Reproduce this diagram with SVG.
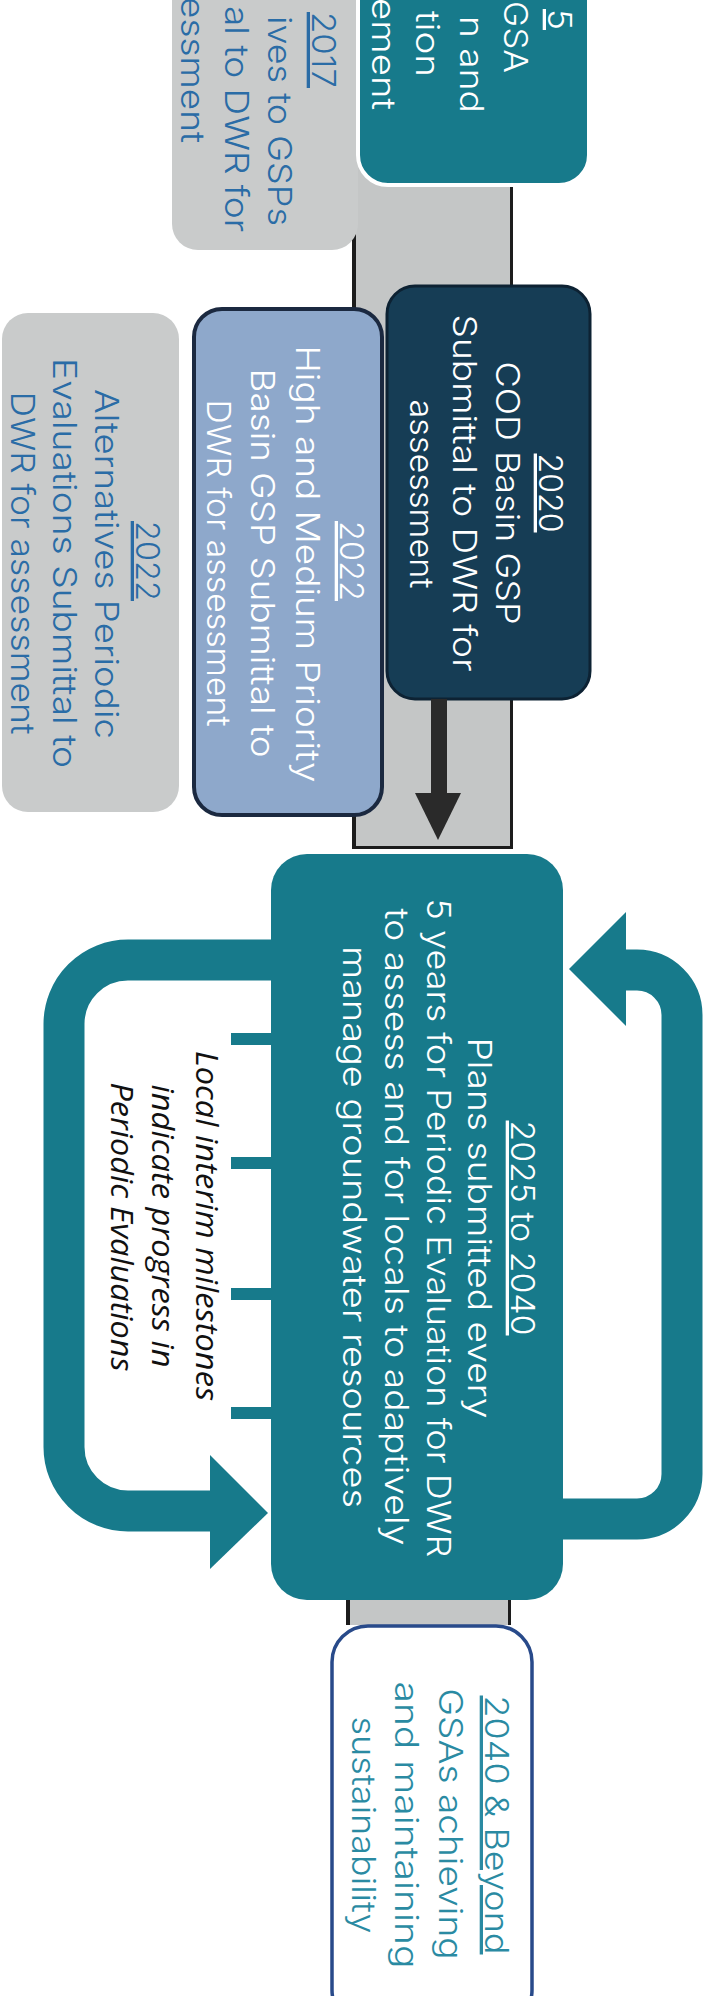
<svg xmlns="http://www.w3.org/2000/svg" width="717" height="1996" viewBox="0 0 717 1996">
<defs>
<style>
.t{font-family:Inter,"DejaVu Sans",sans-serif;font-weight:300;font-size:33px;text-anchor:middle}
.e{font-family:Inter,"DejaVu Sans",sans-serif;font-weight:300;font-size:33px;text-anchor:end}
.w{fill:#ffffff}
.bl{fill:#2a6ca6}
.u{text-decoration:underline}
.it{font-family:"Open Sans","Noto Sans",sans-serif;font-style:italic;font-size:31px;text-anchor:middle;fill:#111111}
.teal{fill:#177a8b}
.loop{fill:none;stroke:#177a8b;stroke-width:41}
</style>
<linearGradient id="g40" gradientUnits="userSpaceOnUse" x1="340" y1="1690" x2="510" y2="1960">
<stop offset="0" stop-color="#2a8aa2"/>
<stop offset="1" stop-color="#2a4688"/>
</linearGradient>
</defs>
<rect width="717" height="1996" fill="#ffffff"/>

<g id="timeline">
<rect x="352" y="0" width="161" height="849" fill="#c4c6c6"/>
<line x1="354" y1="0" x2="354" y2="849" stroke="#1c1c1c" stroke-width="4"/>
<line x1="511.5" y1="0" x2="511.5" y2="849" stroke="#1c1c1c" stroke-width="3"/>
<line x1="352" y1="847.5" x2="513" y2="847.5" stroke="#1c1c1c" stroke-width="3"/>
<rect x="346" y="1598" width="165" height="27" fill="#c4c6c6"/>
<line x1="348" y1="1598" x2="348" y2="1625" stroke="#1c1c1c" stroke-width="4"/>
<line x1="509.5" y1="1598" x2="509.5" y2="1625" stroke="#1c1c1c" stroke-width="3"/>
</g>

<g id="node-2017">
<rect x="172" y="-40" width="186" height="290" rx="26" fill="#c9cbcb"/>
<text class="e bl u" transform="translate(312,88) rotate(90)" textLength="76" lengthAdjust="spacingAndGlyphs">2017</text>
<text class="e bl" transform="translate(268,226) rotate(90)" textLength="210" lengthAdjust="spacingAndGlyphs">ives to GSPs</text>
<text class="e bl" transform="translate(225,232) rotate(90)" textLength="226" lengthAdjust="spacingAndGlyphs">al to DWR for</text>
<text class="e bl" transform="translate(181,143) rotate(90)" textLength="146" lengthAdjust="spacingAndGlyphs">essment</text>
</g>

<g id="node-2015">
<rect x="358" y="-40" width="231" height="225" rx="30" fill="#177a8b" stroke="#ffffff" stroke-width="4"/>
<text class="e w u" transform="translate(548,30) rotate(90)" textLength="21" lengthAdjust="spacingAndGlyphs">5</text>
<text class="e w" transform="translate(504,73) rotate(90)" textLength="72" lengthAdjust="spacingAndGlyphs">GSA</text>
<text class="e w" transform="translate(460,113) rotate(90)" textLength="97" lengthAdjust="spacingAndGlyphs">n and</text>
<text class="e w" transform="translate(416,77) rotate(90)" textLength="66" lengthAdjust="spacingAndGlyphs">tion</text>
<text class="e w" transform="translate(372,110) rotate(90)" textLength="112" lengthAdjust="spacingAndGlyphs">ement</text>
</g>

<g id="node-2022-alt">
<rect x="2" y="313" width="177" height="499" rx="26" fill="#c9cbcb"/>
<text class="t bl u" transform="translate(136,561) rotate(90)" textLength="80" lengthAdjust="spacingAndGlyphs">2022</text>
<text class="t bl" transform="translate(95,564) rotate(90)" textLength="350" lengthAdjust="spacingAndGlyphs">Alternatives Periodic</text>
<text class="t bl" transform="translate(53,563) rotate(90)" textLength="410" lengthAdjust="spacingAndGlyphs">Evaluations Submittal to</text>
<text class="t bl" transform="translate(11,563) rotate(90)" textLength="343" lengthAdjust="spacingAndGlyphs">DWR for assessment</text>
</g>

<g id="node-2022-gsp">
<rect x="194" y="309" width="188" height="506" rx="28" fill="#8ea8cb" stroke="#1b2940" stroke-width="4"/>
<text class="t w u" transform="translate(340,561) rotate(90)" textLength="80" lengthAdjust="spacingAndGlyphs">2022</text>
<text class="t w" transform="translate(296,564) rotate(90)" textLength="437" lengthAdjust="spacingAndGlyphs">High and Medium Priority</text>
<text class="t w" transform="translate(251,563) rotate(90)" textLength="389" lengthAdjust="spacingAndGlyphs">Basin GSP Submittal to</text>
<text class="t w" transform="translate(207,563) rotate(90)" textLength="327" lengthAdjust="spacingAndGlyphs">DWR for assessment</text>
</g>

<g id="node-2020">
<rect x="387" y="286" width="203" height="413" rx="28" fill="#163d55" stroke="#0d2233" stroke-width="3"/>
<text class="t w u" transform="translate(539,493) rotate(90)" textLength="79" lengthAdjust="spacingAndGlyphs">2020</text>
<text class="t w" transform="translate(496,493) rotate(90)" textLength="263" lengthAdjust="spacingAndGlyphs">COD Basin GSP</text>
<text class="t w" transform="translate(453,493) rotate(90)" textLength="357" lengthAdjust="spacingAndGlyphs">Submittal to DWR for</text>
<text class="t w" transform="translate(410,494) rotate(90)" textLength="189" lengthAdjust="spacingAndGlyphs">assessment</text>
</g>

<g id="node-2025">
<rect x="271" y="854" width="292" height="746" rx="36" fill="#177a8b"/>
<text class="t w u" transform="translate(511,1228) rotate(90)" textLength="215" lengthAdjust="spacingAndGlyphs">2025 to 2040</text>
<text class="t w" transform="translate(468,1228) rotate(90)" textLength="381" lengthAdjust="spacingAndGlyphs">Plans submitted every</text>
<text class="t w" transform="translate(427,1228) rotate(90)" textLength="659" lengthAdjust="spacingAndGlyphs">5 years for Periodic Evaluation for DWR</text>
<text class="t w" transform="translate(385,1227) rotate(90)" textLength="637" lengthAdjust="spacingAndGlyphs">to assess and for locals to adaptively</text>
<text class="t w" transform="translate(343,1227) rotate(90)" textLength="562" lengthAdjust="spacingAndGlyphs">manage groundwater resources</text>
</g>

<g id="node-2040">
<rect x="332" y="1626" width="200" height="400" rx="36" fill="#ffffff" stroke="#284a8a" stroke-width="3.5"/>
<text class="t u" fill="url(#g40)" transform="translate(485,1825) rotate(90)" textLength="259" lengthAdjust="spacingAndGlyphs">2040 &amp; Beyond</text>
<text class="t" fill="url(#g40)" transform="translate(439,1824) rotate(90)" textLength="271" lengthAdjust="spacingAndGlyphs">GSAs achieving</text>
<text class="t" fill="url(#g40)" transform="translate(395,1825) rotate(90)" textLength="287" lengthAdjust="spacingAndGlyphs">and maintaining</text>
<text class="t" fill="url(#g40)" transform="translate(352,1825) rotate(90)" textLength="217" lengthAdjust="spacingAndGlyphs">sustainability</text>
</g>

<g id="note-milestones">
<text class="it" transform="translate(196,1226) rotate(90)" textLength="350" lengthAdjust="spacingAndGlyphs">Local interim milestones</text>
<text class="it" transform="translate(152,1226) rotate(90)" textLength="283" lengthAdjust="spacingAndGlyphs">indicate progress in</text>
<text class="it" transform="translate(111,1227) rotate(90)" textLength="289" lengthAdjust="spacingAndGlyphs">Periodic Evaluations</text>
</g>

<g id="connectors">
<rect x="431" y="699" width="16" height="96" fill="#2a2a2a"/>
<polygon points="415,793 461,793 438,840" fill="#2a2a2a"/>
<path class="loop" d="M276 960 H128 A64 64 0 0 0 64 1024 V1447 A64 64 0 0 0 128 1511 H214"/>
<polygon class="teal" points="210,1455 268,1513 210,1569"/>
<path class="loop" d="M558 1519 H637 A45 45 0 0 0 682 1474 V1015 A45 45 0 0 0 637 970 H622"/>
<polygon class="teal" points="626,912 569,969 626,1026"/>
<rect class="teal" x="231" y="1033" width="43" height="12"/>
<rect class="teal" x="231" y="1157" width="43" height="12"/>
<rect class="teal" x="231" y="1288" width="43" height="12"/>
<rect class="teal" x="231" y="1407" width="43" height="12"/>
</g>
</svg>
